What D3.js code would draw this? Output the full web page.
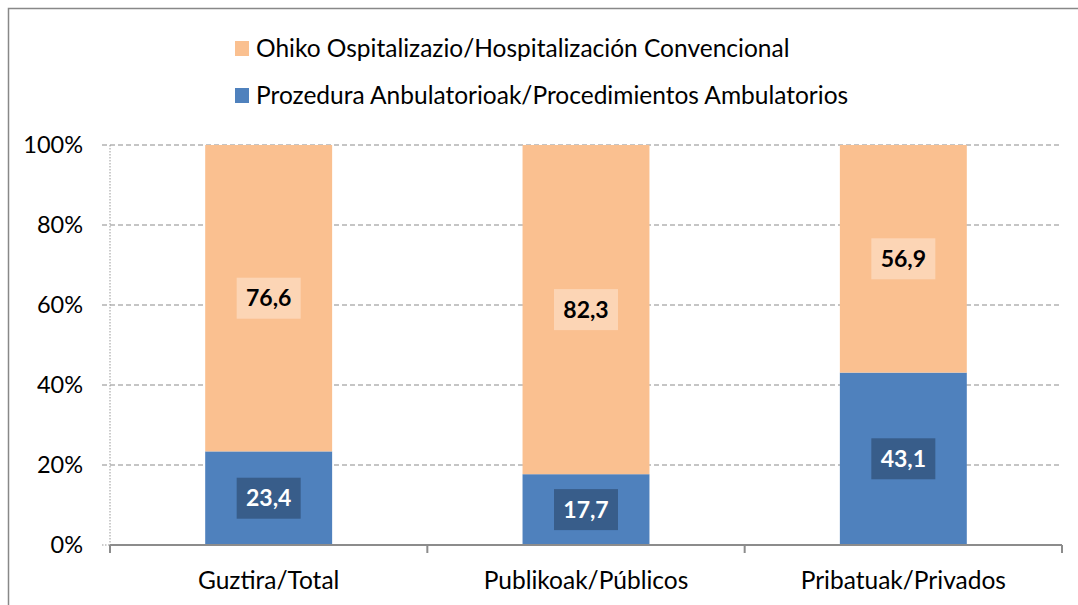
<!DOCTYPE html>
<html>
<head>
<meta charset="utf-8">
<script src="https://cdn.jsdelivr.net/npm/d3@7"></script>
<style>
  body { margin: 0; background: #fff; }
  svg { display: block; font-family: Lato, "Open Sans", sans-serif; }
</style>
</head>
<body>
<div id="chart"></div>
<script>
/* Data */
var categories = ["Guztira/Total", "Publikoak/Públicos", "Pribatuak/Privados"];
var ambulatorio = [23.4, 17.7, 43.1];   // bottom series
var convencional = [76.6, 82.3, 56.9];  // top series
var seriesNames = ["Ohiko Ospitalizazio/Hospitalización Convencional",
                   "Prozedura Anbulatorioak/Procedimientos Ambulatorios"];
var yTicks = [0, 20, 40, 60, 80, 100];

var width = 1078, height = 605;
var margin = {left: 110, right: 16, top: 145, bottom: 60};

var svg = d3.select("#chart").append("svg")
    .attr("width", width).attr("height", height);

// outer frame (runs off right/bottom)
svg.append("rect").attr("x", 8.5).attr("y", 8.5)
    .attr("width", width + 20).attr("height", height + 20)
    .attr("fill", "none").attr("stroke", "#888").attr("stroke-width", 1.5);

var x = d3.scaleBand().domain(categories)
    .range([margin.left, width - margin.right]).paddingInner(0.6).paddingOuter(0.3);
var y = d3.scaleLinear().domain([0, 100]).range([height - margin.bottom, margin.top]);

// gridlines
svg.append("g").selectAll("line").data(yTicks.filter(function(d){ return d > 0; }))
    .enter().append("line")
    .attr("x1", margin.left - 8).attr("x2", width - margin.right)
    .attr("y1", function(d){ return y(d); }).attr("y2", function(d){ return y(d); })
    .attr("stroke", "#8c8c8c").attr("stroke-width", 1.2).attr("stroke-dasharray", "5,3");

// y axis (dotted)
svg.append("line").attr("x1", margin.left).attr("x2", margin.left)
    .attr("y1", y(100)).attr("y2", y(0))
    .attr("stroke", "#999").attr("stroke-dasharray", "1.5,1.5");
svg.append("line").attr("x1", margin.left - 8).attr("x2", margin.left)
    .attr("y1", y(0)).attr("y2", y(0))
    .attr("stroke", "#999").attr("stroke-dasharray", "1.5,1.5");

svg.append("g").selectAll("text").data(yTicks).enter().append("text")
    .attr("x", 83).attr("y", function(d){ return y(d); })
    .attr("dy", "0.35em").attr("text-anchor", "end")
    .attr("font-size", 23.5).attr("fill", "#000")
    .text(function(d){ return d + "%"; });

// bars
var data = categories.map(function(c, i) {
    return {cat: c, amb: ambulatorio[i], conv: convencional[i]};
});

var g = svg.append("g");
g.selectAll("rect.amb").data(data).enter().append("rect")
    .attr("x", function(d){ return x(d.cat); })
    .attr("width", x.bandwidth())
    .attr("y", function(d){ return y(d.amb); })
    .attr("height", function(d){ return y(0) - y(d.amb); })
    .attr("fill", "#4f81bd");
g.selectAll("rect.conv").data(data).enter().append("rect")
    .attr("x", function(d){ return x(d.cat); })
    .attr("width", x.bandwidth())
    .attr("y", function(d){ return y(d.amb + d.conv); })
    .attr("height", function(d){ return y(d.amb) - y(d.amb + d.conv); })
    .attr("fill", "#fac090");

// x axis
var axisY = y(0);
svg.append("line").attr("x1", margin.left).attr("x2", width - margin.right)
    .attr("y1", axisY).attr("y2", axisY)
    .attr("stroke", "#8c8c8c").attr("stroke-width", 2);
var bounds = [0, 1, 2, 3].map(function(i){ return margin.left + (width - margin.right - margin.left) * i / 3; });
svg.append("g").selectAll("line").data(bounds).enter().append("line")
    .attr("x1", function(d){ return d; }).attr("x2", function(d){ return d; })
    .attr("y1", axisY).attr("y2", axisY + 8)
    .attr("stroke", "#8c8c8c").attr("stroke-width", 2);

svg.append("g").selectAll("text").data(categories).enter().append("text")
    .attr("x", function(d){ return x(d) + x.bandwidth() / 2; })
    .attr("y", 580).attr("dy", "0.35em").attr("text-anchor", "middle")
    .attr("font-size", 24.5).attr("fill", "#000")
    .text(function(d){ return d; });

// value labels
function addLabel(cx, cy, txt, bg, fg) {
    svg.append("rect").attr("x", cx - 32).attr("y", cy - 20.5)
        .attr("width", 64).attr("height", 41).attr("fill", bg);
    svg.append("text").attr("x", cx).attr("y", cy).attr("dy", "0.36em")
        .attr("text-anchor", "middle").attr("font-size", 23).attr("font-weight", "bold")
        .attr("fill", fg).text(txt);
}
data.forEach(function(d) {
    var cx = x(d.cat) + x.bandwidth() / 2;
    addLabel(cx, y(d.amb / 2), d.amb.toFixed(1).replace(".", ","), "#385d8a", "#fff");
    addLabel(cx, y(d.amb + d.conv / 2), d.conv.toFixed(1).replace(".", ","), "#fcd5b5", "#000");
});

// legend
var legendColors = ["#fac090", "#4f81bd"];
var lg = svg.append("g").selectAll("g").data(seriesNames).enter().append("g")
    .attr("transform", function(d, i){ return "translate(235," + (48.5 + i * 47) + ")"; });
lg.append("rect").attr("x", 0).attr("y", -7.5).attr("width", 14).attr("height", 15)
    .attr("fill", function(d, i){ return legendColors[i]; });
lg.append("text").attr("x", 21).attr("y", 0).attr("dy", "0.35em")
    .attr("font-size", 24.5).attr("fill", "#000")
    .text(function(d){ return d; });
</script>
</body>
</html>
